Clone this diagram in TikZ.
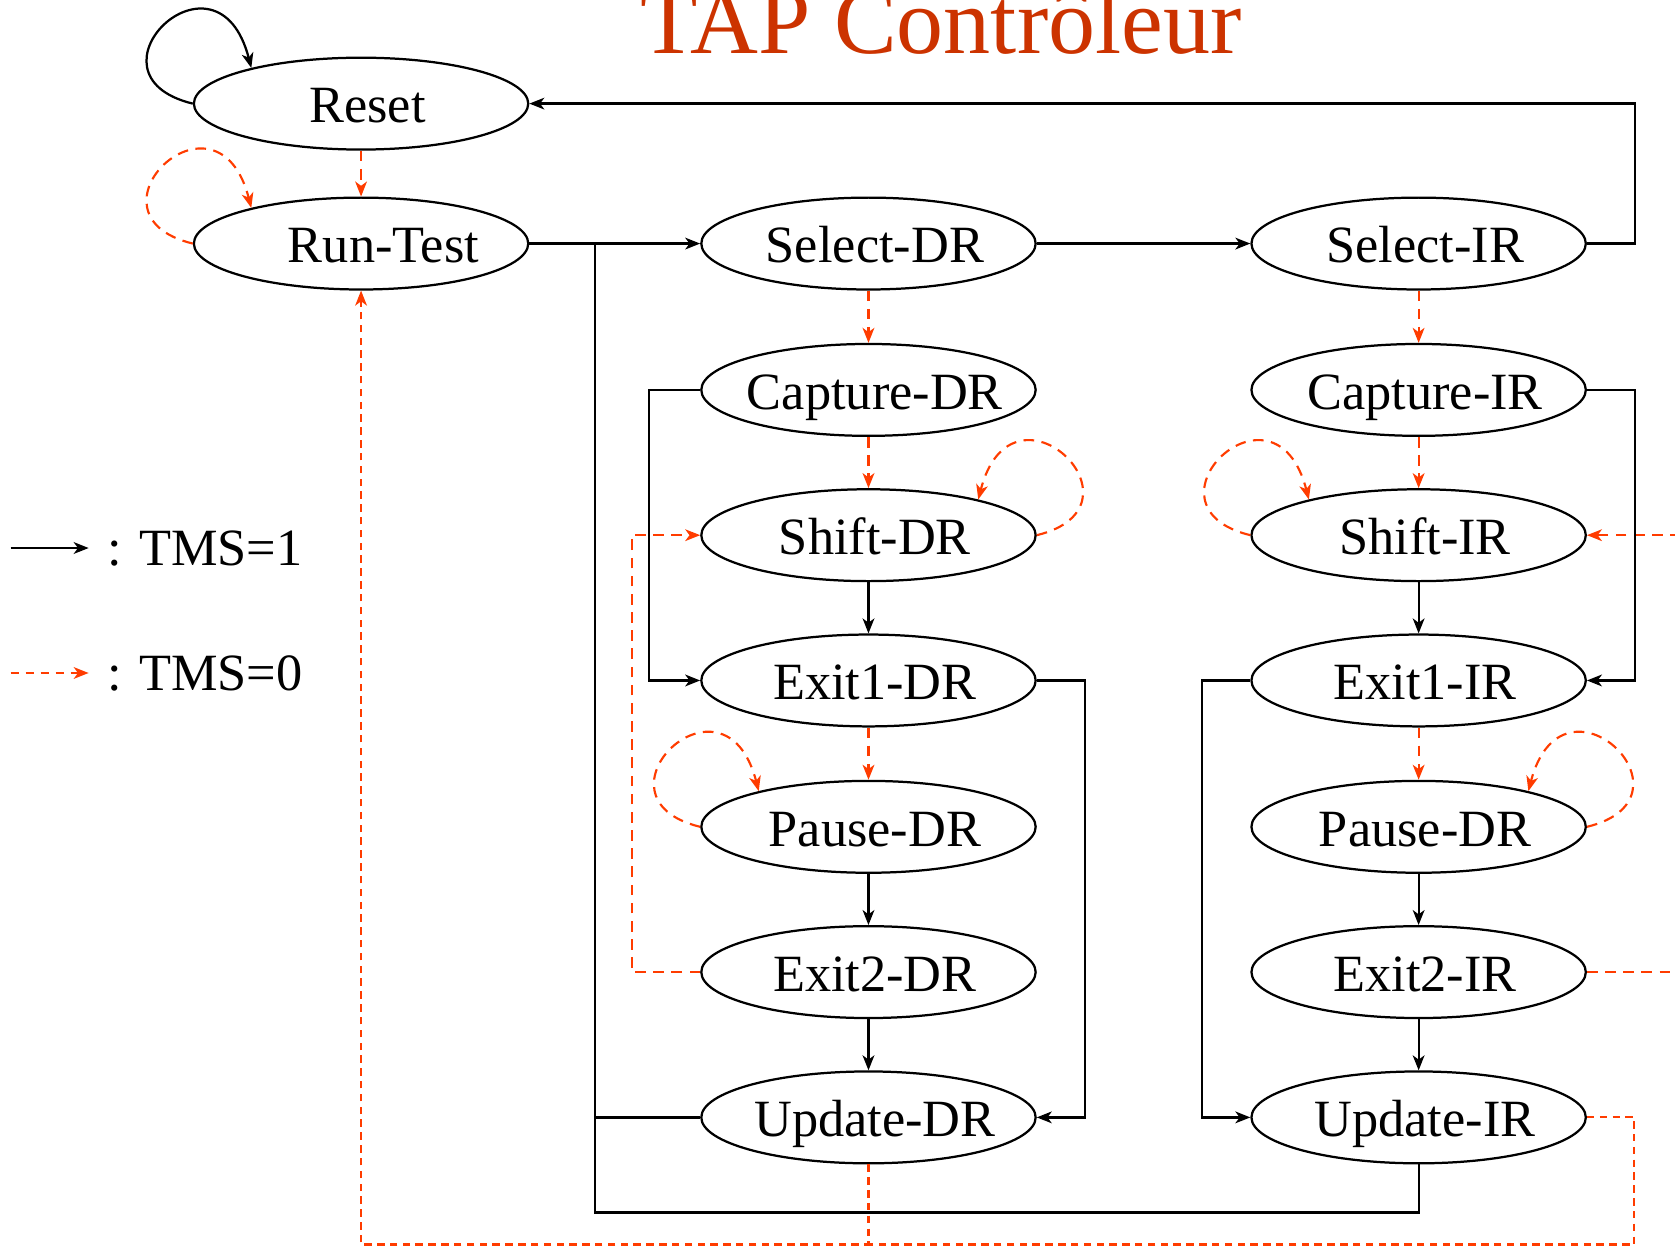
\documentclass[tikz,border=0pt]{standalone}
\usepackage{fontspec}
\setmainfont{Liberation Serif}
\usetikzlibrary{shapes.geometric,arrows.meta}
\definecolor{tmsred}{RGB}{255,60,0}
\definecolor{titlered}{RGB}{204,51,0}
\begin{document}
\begin{tikzpicture}[x=1pt,y=-1pt,
  st/.style={ellipse,draw,line width=2.1pt,minimum width=313pt,minimum height=86pt,inner xsep=-45pt,inner ysep=0pt,
    font=\fontsize{49}{58}\selectfont,text height=36pt,text depth=0pt,
    execute at begin node={\hspace*{12pt}}},
  blk/.style={line width=2.1pt,black},
  rd/.style={line width=2pt,tmsred,dash pattern=on 10pt off 7pt},
  rdb/.style={line width=2pt,tmsred,dash pattern=on 7pt off 5pt},
  arrowhd/.style={-{Stealth[length=14pt,width=11pt,inset=4pt]}},
  leg/.style={anchor=west,inner sep=0pt,font=\fontsize{49}{58}\selectfont,text height=33pt,text depth=0pt}]
\useasboundingbox (0,0) rectangle (1568,1167);

% title
\node[font=\fontsize{88}{100}\selectfont,text=titlered,anchor=base,inner sep=0pt] (title) at (881,50) {TAP Contrôleur};

% states
\node[st] (reset) at (338,97) {Reset};
\node[st,execute at begin node={\hspace*{30pt}}] (rt) at (338,228) {Run-Test};
\node[st] (sdr) at (813,228) {Select-DR};
\node[st] (cdr) at (813,365) {Capture-DR};
\node[st] (shdr) at (813,501) {Shift-DR};
\node[st] (e1dr) at (813,637) {Exit1-DR};
\node[st] (pdr) at (813,774) {Pause-DR};
\node[st] (e2dr) at (813,910) {Exit2-DR};
\node[st] (udr) at (813,1046) {Update-DR};
\node[st] (sir) at (1328,228) {Select-IR};
\node[st] (cir) at (1328,365) {Capture-IR};
\node[st] (shir) at (1328,501) {Shift-IR};
\node[st] (e1ir) at (1328,637) {Exit1-IR};
\node[st] (pir) at (1328,774) {Pause-DR};
\node[st] (e2ir) at (1328,910) {Exit2-IR};
\node[st] (uir) at (1328,1046) {Update-IR};

% junction coordinates
\coordinate (jx) at (557,228);
\coordinate (jb) at (557,1135);
\coordinate (bd) at (813,1165);
\coordinate (br) at (1530,1165);

% legend
\coordinate (l1s) at (10,513);
\coordinate (l1e) at (83,513);
\coordinate (l2s) at (10,630);
\coordinate (l2e) at (83,630);
\node[leg] (l1) at (100,513) {: TMS=1};
\node[leg] (l2) at (100,630) {: TMS=0};
\draw[blk,arrowhd] (l1s) -- (l1e);
\draw[rd,dash pattern=on 8pt off 6pt,arrowhd] (l2s) -- (l2e);

% self loops
\draw[blk,arrowhd] (reset.west) .. controls +(-111,-27) and +(-32,-124) .. (reset.162);
\draw[rd,arrowhd] (rt.west) .. controls +(-111,-27) and +(-32,-124) .. (rt.162);
\draw[rd,arrowhd] (shdr.east) .. controls +(111,-27) and +(32,-124) .. (shdr.18);
\draw[rd,arrowhd] (pdr.west) .. controls +(-111,-27) and +(-32,-124) .. (pdr.162);
\draw[rd,arrowhd] (shir.west) .. controls +(-111,-27) and +(-32,-124) .. (shir.162);
\draw[rd,arrowhd] (pir.east) .. controls +(111,-27) and +(32,-124) .. (pir.18);

% TMS=0 straight transitions
\draw[rd,arrowhd] (reset.south) -- (rt.north);
\draw[rd,arrowhd] (sdr.south) -- (cdr.north);
\draw[rd,arrowhd] (cdr.south) -- (shdr.north);
\draw[rd,arrowhd] (e1dr.south) -- (pdr.north);
\draw[rd,arrowhd] (sir.south) -- (cir.north);
\draw[rd,arrowhd] (cir.south) -- (shir.north);
\draw[rd,arrowhd] (e1ir.south) -- (pir.north);
\draw[rd,arrowhd] (e2dr.west) -- ++(-64,0) |- (shdr.west);
\draw[rd,arrowhd] (e2ir.east) -- ++(120,0) |- (shir.east);
\draw[rdb,arrowhd] (udr.south) -- (bd) -| (rt.south);
\draw[rdb] (uir.east) -| (br) -- (bd);

% TMS=1 transitions
\draw[blk,arrowhd] (rt.east) -- (sdr.west);
\draw[blk,arrowhd] (sdr.east) -- (sir.west);
\draw[blk,arrowhd] (sir.east) -- ++(45,0) |- (reset.east);
\draw[blk,arrowhd] (shdr.south) -- (e1dr.north);
\draw[blk,arrowhd] (pdr.south) -- (e2dr.north);
\draw[blk,arrowhd] (e2dr.south) -- (udr.north);
\draw[blk,arrowhd] (shir.south) -- (e1ir.north);
\draw[blk,arrowhd] (pir.south) -- (e2ir.north);
\draw[blk,arrowhd] (e2ir.south) -- (uir.north);
\draw[blk,arrowhd] (cdr.west) -- ++(-48,0) |- (e1dr.west);
\draw[blk,arrowhd] (cir.east) -- ++(45,0) |- (e1ir.east);
\draw[blk,arrowhd] (e1dr.east) -- ++(45,0) |- (udr.east);
\draw[blk,arrowhd] (e1ir.west) -- ++(-45,0) |- (uir.west);
\draw[blk] (udr.west) -| (jx);
\draw[blk] (uir.south) |- (jb) -- (jx);
\end{tikzpicture}
\end{document}
